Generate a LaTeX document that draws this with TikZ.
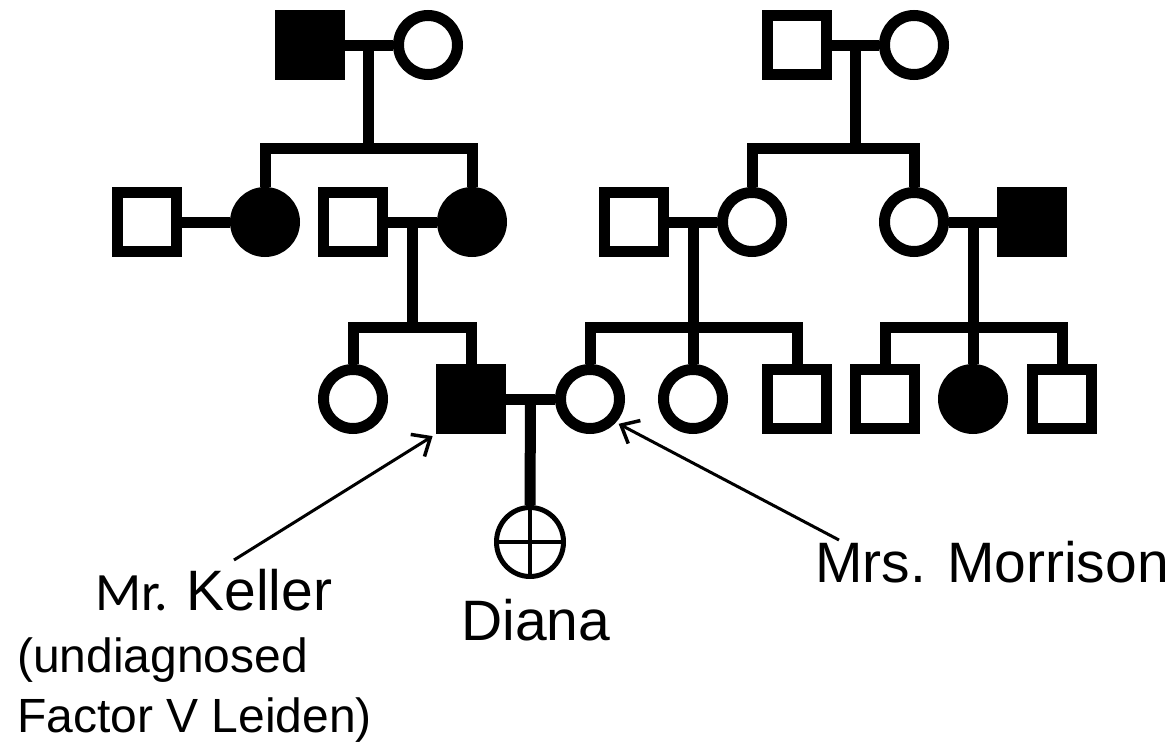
\documentclass[tikz,border=0pt]{standalone}
\usepackage{fontspec}
\setmainfont{Liberation Sans}
\newfontfamily\calibri{Carlito}
\usetikzlibrary{arrows.meta,calc,shapes.geometric}
\begin{document}
\begin{tikzpicture}[x=1pt,y=-1pt,
 lw/.style={line width=11pt},
 male/.style={draw,lw,rectangle,minimum size=59pt,inner sep=0pt,fill=white},
 female/.style={draw,lw,circle,minimum size=59pt,inner sep=0pt,fill=white},
 aff/.style={fill=black},
 rel/.style={lw,line join=miter},
 lab/.style={inner sep=0pt,anchor=base west},
 big/.style={font=\fontsize{57}{64}\selectfont},
 small/.style={font=\fontsize{48}{56}\selectfont},
 ptr/.style={line width=3pt,-{Straight Barb[length=15pt,width=26pt,line width=3.5pt]}}
]
\useasboundingbox (0,0) rectangle (1176,744);
% generation 1
\node[male,aff] (g1a) at (309.5,45) {};
\node[female] (g1b) at (428,45) {};
\node[male] (g1c) at (797,45) {};
\node[female] (g1d) at (914,45) {};
% generation 2
\node[male] (g2a) at (147,222) {};
\node[female,aff] (g2b) at (265,222) {};
\node[male] (g2c) at (353,222) {};
\node[female,aff] (g2d) at (472,222) {};
\node[male] (g2e) at (634,222) {};
\node[female] (g2f) at (752,222) {};
\node[female] (g2g) at (914,222) {};
\node[male,aff] (g2h) at (1032,222) {};
% generation 3
\node[female] (g3a) at (353,399) {};
\node[male,aff] (keller) at (471,399) {};
\node[female] (morr) at (590,399) {};
\node[female] (g3d) at (693,399) {};
\node[male] (g3e) at (797,399) {};
\node[male] (g3f) at (885,399) {};
\node[female,aff] (g3g) at (973,399) {};
\node[male] (g3h) at (1062,399) {};
% Diana
\node[draw,ellipse,line width=5pt,minimum width=67pt,minimum height=69pt,inner sep=0pt] (diana) at (530,542) {};
\draw[line width=4pt] (diana.north) -- (diana.south) (diana.west) -- (diana.east);

% marriages
\draw[rel] (g1a.east) -- (g1b.west);
\draw[rel] (g1c.east) -- (g1d.west);
\draw[rel] (g2a.east) -- (g2b.west);
\draw[rel] (g2c.east) -- (g2d.west);
\draw[rel] (g2e.east) -- (g2f.west);
\draw[rel] (g2g.east) -- (g2h.west);
\draw[rel] (keller.east) -- (morr.west);

% midpoints and sibship lines
\coordinate (m1) at ($(g1a.east)!0.5!(g1b.west)$);
\coordinate (s1) at (m1 |- 0,148);
\draw[rel] (m1) -- (s1);
\draw[rel] (g2b.north) |- (s1) -| (g2d.north);

\coordinate (m2) at ($(g1c.east)!0.5!(g1d.west)$);
\coordinate (s2) at (m2 |- 0,148);
\draw[rel] (m2) -- (s2);
\draw[rel] (g2f.north) |- (s2) -| (g2g.north);

\coordinate (m3) at ($(g2c.east)!0.5!(g2d.west)$);
\coordinate (s3) at (m3 |- 0,327);
\draw[rel] (m3) -- (s3);
\draw[rel] (g3a.north) |- (s3) -| (keller.north);

\coordinate (m4) at ($(g2e.east)!0.5!(g2f.west)$);
\draw[rel] (m4) -- (g3d.north);
\coordinate (s4) at (m4 |- 0,327);
\draw[rel] (morr.north) |- (s4) -| (g3e.north);

\coordinate (m5) at ($(g2g.east)!0.5!(g2h.west)$);
\draw[rel] (m5) -- (g3g.north);
\coordinate (s5) at (m5 |- 0,327);
\draw[rel] (g3f.north) |- (s5) -| (g3h.north);

\coordinate (m6) at ($(keller.east)!0.5!(morr.west)$);
\draw[rel] (m6) -- (diana.north);

% labels
\node[lab,big] (lk) at (95,610) {{\calibri\fontsize{54}{60}\selectfont Mr.}\hspace{18pt}Keller};
\node[lab,small] (lu) at (17,672) {(undiagnosed};
\node[lab,small] (lf) at (17,732) {Factor V Leiden)};
\node[lab,big] (ld) at (461,640) {Diana};
\node[lab,big] (lm) at (815,582) {Mrs. Morrison};

% pointers
\coordinate (pk) at (234,560);
\coordinate (pm) at (839,540);
\draw[ptr,shorten >=4pt] (pk) -- (keller.south west);
\draw[ptr,shorten >=3pt] (pm) -- (morr.-42);
\end{tikzpicture}
\end{document}
